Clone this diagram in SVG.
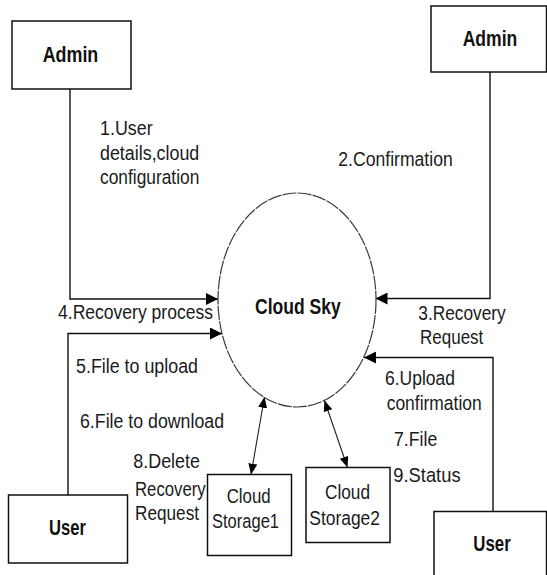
<svg xmlns="http://www.w3.org/2000/svg" width="547" height="575" viewBox="0 0 547 575">
  <style>
    .box { fill: #ffffff; stroke: #111111; stroke-width: 1.5; }
    .proc { fill: #ffffff; stroke: #3a3a3a; stroke-width: 1.2; stroke-dasharray: 14 1.2; }
    .conn { fill: none; stroke: #111111; stroke-width: 1.4; }
    .link { fill: none; stroke: #222222; stroke-width: 1.1; }
    .lbl { font-family: "Liberation Sans", Arial, sans-serif; font-size: 20.5px; fill: #1a1a1a; }
    .ttl { font-family: "Liberation Sans", Arial, sans-serif; font-size: 21.5px; font-weight: bold; fill: #111111; }
  </style>
  <defs>
    <marker id="head" viewBox="0 0 12 12" markerUnits="userSpaceOnUse" markerWidth="12" markerHeight="12" refX="12" refY="6" orient="auto">
      <path d="M0,0 L12,6 L0,12 z" fill="#000000"/>
    </marker>
    <marker id="head2" viewBox="0 0 12 10" markerUnits="userSpaceOnUse" markerWidth="11" markerHeight="9" refX="12" refY="5" orient="auto-start-reverse">
      <path d="M0,0 L12,5 L0,10 z" fill="#000000"/>
    </marker>
  </defs>

  <rect width="547" height="575" fill="#ffffff"/>

  <!-- connectors -->
  <g id="connectors">
    <polyline class="conn" points="70,89 70,299 218,299" marker-end="url(#head)"/>
    <polyline class="conn" points="490,72 490,298.5 375.5,298.5" marker-end="url(#head)"/>
    <polyline class="conn" points="68,495 68,333.5 222,333.5" marker-end="url(#head)"/>
    <polyline class="conn" points="493,511.5 493,357.5 364,357.5" marker-end="url(#head)"/>
    <line class="link" x1="251" y1="474.5" x2="264.5" y2="397" marker-start="url(#head2)" marker-end="url(#head2)"/>
    <line class="link" x1="324.5" y1="400.5" x2="347.5" y2="467.5" marker-start="url(#head2)" marker-end="url(#head2)"/>
  </g>

  <!-- flow labels -->
  <g id="labels">
    <text class="lbl" x="100" y="135" textLength="52.7" lengthAdjust="spacingAndGlyphs">1.User</text>
    <text class="lbl" x="100" y="159.5" textLength="99.3" lengthAdjust="spacingAndGlyphs">details,cloud</text>
    <text class="lbl" x="100" y="184" textLength="99.3" lengthAdjust="spacingAndGlyphs">configuration</text>
    <text class="lbl" x="338.3" y="165.7" textLength="114.4" lengthAdjust="spacingAndGlyphs">2.Confirmation</text>
    <text class="lbl" x="58" y="319.3" textLength="155" lengthAdjust="spacingAndGlyphs">4.Recovery process</text>
    <text class="lbl" x="418.3" y="320" textLength="87.4" lengthAdjust="spacingAndGlyphs">3.Recovery</text>
    <text class="lbl" x="420" y="344.3" textLength="63.3" lengthAdjust="spacingAndGlyphs">Request</text>
    <text class="lbl" x="76" y="372.7" textLength="122" lengthAdjust="spacingAndGlyphs">5.File to upload</text>
    <text class="lbl" x="385" y="385" textLength="70" lengthAdjust="spacingAndGlyphs">6.Upload</text>
    <text class="lbl" x="386.7" y="410" textLength="95" lengthAdjust="spacingAndGlyphs">confirmation</text>
    <text class="lbl" x="80" y="428.3" textLength="144" lengthAdjust="spacingAndGlyphs">6.File to download</text>
    <text class="lbl" x="394" y="446" textLength="43.3" lengthAdjust="spacingAndGlyphs">7.File</text>
    <text class="lbl" x="133.3" y="467.7" textLength="66.7" lengthAdjust="spacingAndGlyphs">8.Delete</text>
    <text class="lbl" x="393.3" y="481.7" textLength="67.3" lengthAdjust="spacingAndGlyphs">9.Status</text>
    <text class="lbl" x="135" y="496" textLength="70.7" lengthAdjust="spacingAndGlyphs">Recovery</text>
    <text class="lbl" x="135" y="520" textLength="64" lengthAdjust="spacingAndGlyphs">Request</text>
  </g>

  <!-- central process -->
  <g id="cloud-sky">
    <ellipse class="proc" cx="297" cy="300" rx="79" ry="107"/>
    <text class="ttl" x="255" y="314.3" textLength="85.7" lengthAdjust="spacingAndGlyphs">Cloud Sky</text>
  </g>

  <!-- external entities -->
  <g id="admin-left">
    <rect class="box" x="12" y="21" width="119" height="68"/>
    <text class="ttl" x="42.7" y="62.3" textLength="55.6" lengthAdjust="spacingAndGlyphs">Admin</text>
  </g>
  <g id="admin-right">
    <rect class="box" x="431" y="6" width="115.5" height="66"/>
    <text class="ttl" x="462.7" y="45.7" textLength="54.6" lengthAdjust="spacingAndGlyphs">Admin</text>
  </g>
  <g id="user-left">
    <rect class="box" x="8.5" y="495" width="119" height="68"/>
    <text class="ttl" x="49" y="535" textLength="37" lengthAdjust="spacingAndGlyphs">User</text>
  </g>
  <g id="user-right">
    <rect class="box" x="434" y="511.5" width="112.5" height="80"/>
    <text class="ttl" x="473.3" y="550.7" textLength="37.4" lengthAdjust="spacingAndGlyphs">User</text>
  </g>

  <!-- storage nodes -->
  <g id="cloud-storage1">
    <rect class="box" x="207.5" y="474.5" width="84" height="81"/>
    <text class="lbl" x="226.7" y="503.3" textLength="44" lengthAdjust="spacingAndGlyphs">Cloud</text>
    <text class="lbl" x="212" y="528.3" textLength="67" lengthAdjust="spacingAndGlyphs">Storage1</text>
  </g>
  <g id="cloud-storage2">
    <rect class="box" x="306" y="467.5" width="84" height="75"/>
    <text class="lbl" x="325" y="499.3" textLength="45" lengthAdjust="spacingAndGlyphs">Cloud</text>
    <text class="lbl" x="309.3" y="525" textLength="70.7" lengthAdjust="spacingAndGlyphs">Storage2</text>
  </g>
</svg>
